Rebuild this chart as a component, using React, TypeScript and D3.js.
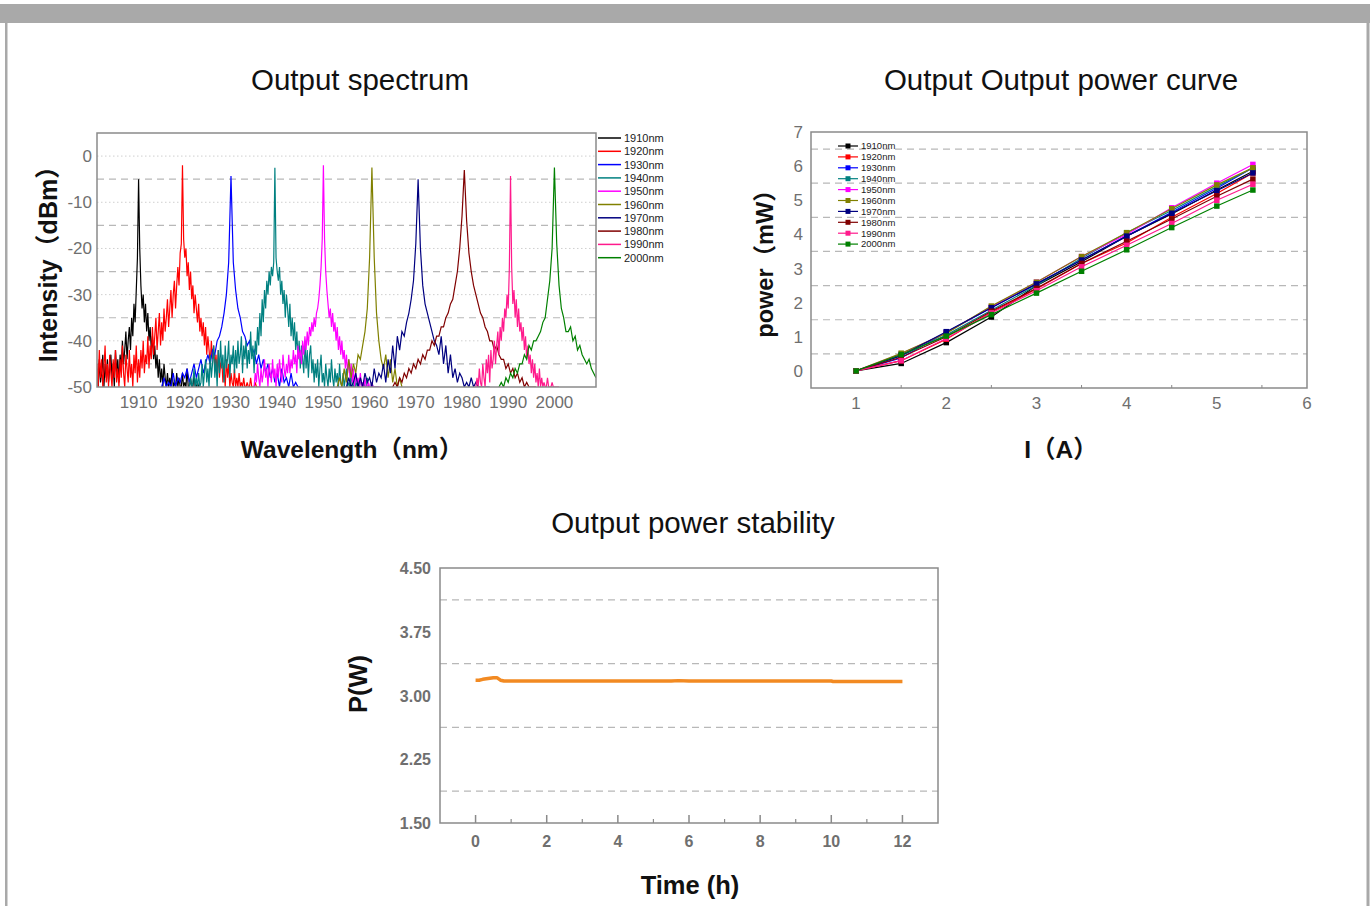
import React from "react";
import * as d3 from "d3";

// ---------------- Output spectrum data ----------------
const SPEC_NAMES = ["1910nm", "1920nm", "1930nm", "1940nm", "1950nm", "1960nm", "1970nm", "1980nm", "1990nm", "2000nm"];
const SPEC_COLORS = ["#000000", "#ff0000", "#0000ff", "#008080", "#ff00ff", "#808000", "#000080", "#800000", "#ff1a8c", "#008000"];
const SPEC_STEPS = [0.25, 0.25, 0.5, 0.25, 0.25, 0.5, 0.5, 0.5, 0.25, 0.5]; // nm between samples
const SPEC_STARTS = [1901, 1901, 1915, 1921, 1935, 1953, 1955, 1965, 1983, 1988];

const SPEC_1910 = [
  -46, -50, -44, -49, -47, -43, -50, -45, -48, -44,
  -49, -46, -43, -48, -45, -50, -42, -47, -44, -49,
  -43, -46, -40, -45, -42, -38, -44, -40, -37, -42,
  -35, -39, -32, -36, -29, -22, -5, -20, -28, -33,
  -30, -36, -32, -38, -34, -40, -37, -42, -39, -44,
  -41, -46, -43, -48, -44, -49, -46, -50, -45, -48,
  -50, -47, -50, -48, -50, -46, -50, -49, -50, -47,
  -50, -48, -50, -50, -47, -50, -49, -50, -46, -50,
  -50, -48, -50, -50, -47, -50, -50, -49, -50, -50,
  -50, -50, -50,
];
const SPEC_1920 = [
  -45, -50, -42, -48, -44, -50, -46, -41, -49, -45,
  -50, -43, -47, -50, -44, -48, -42, -49, -46, -50,
  -44, -48, -41, -47, -50, -43, -46, -49, -42, -48,
  -45, -50, -43, -47, -41, -49, -44, -48, -42, -46,
  -40, -47, -43, -45, -39, -46, -41, -44, -37, -43,
  -39, -35, -42, -38, -34, -41, -36, -40, -33, -38,
  -35, -31, -37, -33, -29, -35, -30, -27, -33, -28,
  -24, -28, -21, -19, -2, -18, -22, -20, -26, -23,
  -29, -25, -31, -28, -34, -30, -33, -36, -32, -38,
  -35, -39, -36, -41, -37, -43, -39, -42, -45, -40,
  -44, -41, -46, -43, -47, -42, -48, -45, -44, -49,
  -46, -50, -44, -48, -45, -50, -47, -49, -50, -46,
  -50, -48, -50, -47, -50, -49, -50, -48, -50, -50,
  -49, -50, -50, -48, -50, -50, -50, -49, -50, -50,
  -50,
];
const SPEC_1930 = [
  -50, -48, -50, -49, -50, -47, -50, -48, -49, -47,
  -48, -46, -49, -47, -45, -48, -46, -44, -47, -45,
  -43, -45, -42, -43, -40, -39, -37, -34, -30, -23,
  -4.3, -23, -29, -33, -35, -38, -39, -41, -40, -43,
  -42, -45, -43, -46, -44, -47, -45, -48, -46, -49,
  -47, -50, -46, -49, -48, -50, -47, -50, -49, -50,
  -50,
];
const SPEC_1940 = [
  -50, -48, -50, -49, -46, -50, -48, -50, -47, -50,
  -49, -45, -50, -47, -44, -49, -46, -50, -43, -48,
  -45, -41, -48, -44, -50, -42, -47, -40, -46, -43,
  -49, -41, -46, -44, -40, -48, -43, -45, -41, -47,
  -42, -46, -40, -45, -43, -39, -47, -41, -44, -40,
  -46, -42, -45, -38, -44, -41, -47, -40, -43, -37,
  -41, -34, -39, -31, -36, -29, -33, -27, -30, -25,
  -28, -24, -26, -23, -2.5, -22, -25, -27, -24, -30,
  -27, -32, -29, -35, -30, -33, -37, -32, -39, -35,
  -40, -36, -42, -38, -44, -40, -46, -41, -44, -47,
  -40, -46, -42, -48, -43, -41, -47, -44, -49, -45,
  -48, -44, -50, -46, -43, -49, -47, -50, -45, -48,
  -50, -46, -49, -44, -48, -50, -46, -49, -47, -50,
  -45, -49, -50, -47, -50, -48, -46, -50, -49, -50,
  -47, -50, -50, -48, -50, -49, -50, -50, -48, -50,
  -50, -49, -50, -50, -48, -50, -50, -50, -49, -50,
  -50, -50, -50, -50, -50,
];
const SPEC_1950 = [
  -50, -47, -49, -45, -48, -50, -46, -49, -47, -44,
  -48, -46, -50, -45, -47, -49, -44, -48, -46, -50,
  -45, -48, -44, -47, -49, -43, -46, -48, -45, -47,
  -43, -47, -44, -46, -42, -45, -43, -47, -41, -44,
  -42, -45, -40, -43, -39, -42, -38, -41, -37, -39,
  -36, -38, -35, -37, -34, -33, -31, -28, -24, -18,
  -2, -18, -25, -29, -32, -35, -33, -37, -34, -38,
  -36, -40, -37, -42, -39, -43, -40, -44, -42, -46,
  -43, -47, -44, -48, -45, -49, -46, -50, -47, -49,
  -48, -50, -47, -50, -49, -50, -48, -50, -50, -49,
  -50, -50, -49, -50, -50, -50, -50, -50, -50, -50,
  -50,
];
const SPEC_1960 = [
  -50, -48, -50, -46, -49, -44, -48, -45, -47, -43,
  -44, -41, -38, -33, -22, -2.5, -22, -34, -40, -44,
  -46, -43, -48, -44, -49, -46, -50, -48, -50,
];
const SPEC_1970 = [
  -50, -48, -50, -49, -47, -50, -48, -50, -47, -49,
  -48, -50, -46, -49, -47, -48, -45, -49, -44, -47,
  -41, -46, -39, -42, -38, -39, -36, -34, -31, -27,
  -19, -5, -20, -28, -32, -34, -36, -38, -40, -41,
  -43, -39, -45, -41, -47, -43, -48, -46, -49, -47,
  -48, -50, -49, -50, -48, -50, -49, -50, -50, -50,
  -50, -50, -50,
];
const SPEC_1980 = [
  -50, -49, -50, -48, -49, -47, -48, -46, -47, -45,
  -46, -44, -45, -43, -44, -42, -42, -40, -41, -39,
  -39, -37, -37, -35, -34, -32, -31, -28, -25, -20,
  -13, -3, -14, -21, -25, -28, -30, -32, -34, -35,
  -37, -38, -40, -40, -42, -41, -43, -44, -44, -46,
  -45, -47, -46, -48, -47, -49, -48, -50, -49, -50,
  -50, -50, -50,
];
const SPEC_1990 = [
  -50, -48, -50, -46, -49, -50, -45, -48, -50, -44,
  -47, -43, -49, -42, -46, -44, -40, -45, -41, -38,
  -43, -37, -40, -35, -38, -33, -35, -30, -33, -24,
  -4.3, -24, -32, -29, -35, -31, -37, -33, -38, -36,
  -40, -37, -42, -39, -44, -41, -45, -43, -47, -44,
  -48, -45, -49, -47, -50, -46, -50, -48, -50, -49,
  -50, -50, -48, -50, -50, -50, -49, -50, -50, -50,
  -50, -50, -50,
];
const SPEC_2000 = [
  -50, -49, -50, -48, -49, -47, -48, -46, -47, -45,
  -45, -43, -44, -41, -42, -40, -40, -39, -38, -36,
  -35, -31, -27, -20, -2.5, -19, -28, -33, -35, -38,
  -38, -37, -40, -39, -42, -41, -43, -44, -45, -44,
  -46, -47, -48,
];
const SPEC_VALUES = [SPEC_1910, SPEC_1920, SPEC_1930, SPEC_1940, SPEC_1950, SPEC_1960, SPEC_1970, SPEC_1980, SPEC_1990, SPEC_2000];
const SPEC_X_TICKS = [1910, 1920, 1930, 1940, 1950, 1960, 1970, 1980, 1990, 2000];
const SPEC_Y_TICKS = [0, -10, -20, -30, -40, -50];
const SPEC_DASH_GRID = [-5, -15, -25, -35, -45];

// ---------------- Output power curve data ----------------
const CURRENT_A = [1, 1.5, 2, 2.5, 3, 3.5, 4, 4.5, 5, 5.4];
const PWR_1910 = [0, 0.22, 0.83, 1.58, 2.5, 3.2, 3.95, 4.6, 5.3, 5.85];
const PWR_1920 = [0, 0.3, 0.93, 1.72, 2.4, 3.15, 3.75, 4.5, 5.2, 5.8];
const PWR_1930 = [0, 0.38, 1.13, 1.85, 2.55, 3.25, 3.95, 4.65, 5.35, 5.95];
const PWR_1940 = [0, 0.45, 1.05, 1.78, 2.5, 3.3, 4.05, 4.7, 5.4, 5.95];
const PWR_1950 = [0, 0.5, 1.12, 1.88, 2.6, 3.35, 4.0, 4.78, 5.5, 6.05];
const PWR_1960 = [0, 0.52, 1.1, 1.9, 2.6, 3.35, 4.05, 4.75, 5.45, 5.95];
const PWR_1970 = [0, 0.45, 1.15, 1.85, 2.55, 3.25, 3.95, 4.62, 5.28, 5.8];
const PWR_1980 = [0, 0.4, 1.0, 1.75, 2.42, 3.15, 3.8, 4.45, 5.12, 5.62];
const PWR_1990 = [0, 0.3, 0.95, 1.7, 2.35, 3.05, 3.68, 4.32, 5.0, 5.47];
const PWR_2000 = [0, 0.48, 1.02, 1.65, 2.28, 2.92, 3.55, 4.2, 4.83, 5.3];
const PWR_VALUES = [PWR_1910, PWR_1920, PWR_1930, PWR_1940, PWR_1950, PWR_1960, PWR_1970, PWR_1980, PWR_1990, PWR_2000];
const PWR_X_TICKS = [1, 2, 3, 4, 5, 6];
const PWR_Y_TICKS = [0, 1, 2, 3, 4, 5, 6, 7];
const PWR_DASH_GRID = [0.5, 1.5, 2.5, 3.5, 4.5, 5.5, 6.5];
const PWR_MINOR_X = [1.5, 2.5, 3.5, 4.5, 5.5];

// ---------------- Output power stability data ----------------
const TIME_H = [0, 0.1, 0.2, 0.35, 0.5, 0.6, 0.7, 0.8, 2, 4, 5.5, 5.7, 6, 8, 10, 10.05, 12];
const STAB_W = [3.18, 3.18, 3.19, 3.2, 3.21, 3.21, 3.18, 3.17, 3.17, 3.17, 3.17, 3.175, 3.17, 3.17, 3.17, 3.165, 3.165];
const STAB_X_TICKS = [0, 2, 4, 6, 8, 10, 12];
const STAB_X_MINOR = [1, 3, 5, 7, 9, 11];
const STAB_Y_TICKS = [1.5, 2.25, 3.0, 3.75, 4.5];
const STAB_DASH_GRID = [1.875, 2.625, 3.375, 4.125];

const FONT = "'Liberation Sans', Arial, Helvetica, 'Noto Sans CJK SC', sans-serif";
const TICK_COLOR = "#6f6f6f";
const AXIS_COLOR = "#8a8a8a";
const GRID_COLOR = "#b8b8b8";

function SpectrumChart() {
  const x = d3.scaleLinear().domain([1901, 2009]).range([97, 596]);
  const y = d3.scaleLinear().domain([-50, 5]).range([387, 133]);
  const [x0, x1] = x.range();
  const [yb, yt] = y.range();
  return (
    <g>
      <text x={360} y={90} textAnchor="middle" fontSize={29.5} fontFamily={FONT} fill="#111">Output spectrum</text>
      <defs>
        <clipPath id="specClip">
          <rect x={x0} y={yt} width={x1 - x0} height={yb - yt} />
        </clipPath>
      </defs>
      {SPEC_Y_TICKS.filter((t) => t > -50).map((t) => (
        <line key={"d" + t} x1={x0} x2={x1} y1={y(t)} y2={y(t)} stroke="#cfcfcf" strokeWidth={1} strokeDasharray="1.5,2.5" />
      ))}
      {SPEC_DASH_GRID.map((t) => (
        <line key={"g" + t} x1={x0} x2={x1} y1={y(t)} y2={y(t)} stroke={GRID_COLOR} strokeWidth={1.2} strokeDasharray="7,5" />
      ))}
      <g clipPath="url(#specClip)">
        {SPEC_VALUES.map((vals, si) => {
          const line = d3
            .line<number>()
            .x((_, i) => x(SPEC_STARTS[si] + i * SPEC_STEPS[si]))
            .y((d) => y(d));
          return <path key={si} d={line(vals) || ""} fill="none" stroke={SPEC_COLORS[si]} strokeWidth={1.2} />;
        })}
      </g>
      <rect x={x0} y={yt} width={x1 - x0} height={yb - yt} fill="none" stroke={AXIS_COLOR} strokeWidth={1.5} />
      {SPEC_Y_TICKS.map((t) => (
        <text key={"yl" + t} x={92} y={y(t) + 6} textAnchor="end" fontSize={17} fontFamily={FONT} fill={TICK_COLOR}>{t}</text>
      ))}
      {SPEC_X_TICKS.map((t) => (
        <text key={"xl" + t} x={x(t)} y={408} textAnchor="middle" fontSize={17} fontFamily={FONT} fill={TICK_COLOR}>{t}</text>
      ))}
      <text transform="translate(57,258) rotate(-90)" textAnchor="middle" fontSize={25} fontWeight="bold" fontFamily={FONT} fill="#111">Intensity（dBm）</text>
      <text x={352} y={458} textAnchor="middle" fontSize={24.5} fontWeight="bold" fontFamily={FONT} fill="#111">Wavelength（nm）</text>
      {SPEC_NAMES.map((n, i) => {
        const ly = 138 + i * 13.3;
        return (
          <g key={n}>
            <line x1={598} x2={621} y1={ly} y2={ly} stroke={SPEC_COLORS[i]} strokeWidth={1.5} />
            <text x={624} y={ly + 4} fontSize={11} fontFamily={FONT} fill="#222">{n}</text>
          </g>
        );
      })}
    </g>
  );
}

function PowerCurveChart() {
  const x = d3.scaleLinear().domain([0.5, 6]).range([811, 1307]);
  const y = d3.scaleLinear().domain([-0.5, 7]).range([388, 132]);
  const line = d3.line<number>().x((_, i) => x(CURRENT_A[i])).y((d) => y(d));
  const [x0, x1] = x.range();
  const [yb, yt] = y.range();
  const ms = 5.5;
  return (
    <g>
      <text x={1061} y={90} textAnchor="middle" fontSize={29.5} fontFamily={FONT} fill="#111">Output Output power curve</text>
      {PWR_DASH_GRID.map((t) => (
        <line key={"g" + t} x1={x0} x2={x1} y1={y(t)} y2={y(t)} stroke={GRID_COLOR} strokeWidth={1.2} strokeDasharray="7,5" />
      ))}
      {PWR_VALUES.map((vals, si) => (
        <g key={si}>
          <path d={line(vals) || ""} fill="none" stroke={SPEC_COLORS[si]} strokeWidth={1.2} />
          {vals.map((v, i) => (
            <rect key={i} x={x(CURRENT_A[i]) - ms / 2} y={y(v) - ms / 2} width={ms} height={ms} fill={SPEC_COLORS[si]} />
          ))}
        </g>
      ))}
      <rect x={x0} y={yt} width={x1 - x0} height={yb - yt} fill="none" stroke={AXIS_COLOR} strokeWidth={1.5} />
      {PWR_MINOR_X.map((t) => (
        <line key={"m" + t} x1={x(t)} x2={x(t)} y1={yb} y2={yb - 3} stroke={AXIS_COLOR} strokeWidth={1} />
      ))}
      {PWR_Y_TICKS.map((t) => (
        <text key={"yl" + t} x={803} y={y(t) + 6} textAnchor="end" fontSize={17} fontFamily={FONT} fill={TICK_COLOR}>{t}</text>
      ))}
      {PWR_X_TICKS.map((t) => (
        <text key={"xl" + t} x={x(t)} y={409} textAnchor="middle" fontSize={17} fontFamily={FONT} fill={TICK_COLOR}>{t}</text>
      ))}
      <text transform="translate(773,258) rotate(-90)" textAnchor="middle" fontSize={23.5} fontWeight="bold" fontFamily={FONT} fill="#111">power（mW）</text>
      <text x={1061} y={458} textAnchor="middle" fontSize={24.5} fontWeight="bold" fontFamily={FONT} fill="#111">I（A）</text>
      {SPEC_NAMES.map((n, i) => {
        const ly = 146 + i * 10.9;
        return (
          <g key={n}>
            <line x1={838} x2={858} y1={ly} y2={ly} stroke={SPEC_COLORS[i]} strokeWidth={1.2} />
            <rect x={848 - 2.5} y={ly - 2.5} width={5} height={5} fill={SPEC_COLORS[i]} />
            <text x={861} y={ly + 3.3} fontSize={9.5} fontFamily={FONT} fill="#222">{n}</text>
          </g>
        );
      })}
    </g>
  );
}

function StabilityChart() {
  const x = d3.scaleLinear().domain([-1, 13]).range([440, 938]);
  const y = d3.scaleLinear().domain([1.5, 4.5]).range([823, 568]);
  const line = d3.line<number>().x((_, i) => x(TIME_H[i])).y((d) => y(d));
  const [x0, x1] = x.range();
  const [yb, yt] = y.range();
  return (
    <g>
      <text x={693} y={533} textAnchor="middle" fontSize={29.5} fontFamily={FONT} fill="#111">Output power stability</text>
      {STAB_DASH_GRID.map((t) => (
        <line key={"g" + t} x1={x0} x2={x1} y1={y(t)} y2={y(t)} stroke={GRID_COLOR} strokeWidth={1.2} strokeDasharray="7,5" />
      ))}
      <path d={line(STAB_W) || ""} fill="none" stroke="#f28a22" strokeWidth={3.5} strokeLinejoin="round" />
      <rect x={x0} y={yt} width={x1 - x0} height={yb - yt} fill="none" stroke={AXIS_COLOR} strokeWidth={1.5} />
      {STAB_X_TICKS.map((t) => (
        <line key={"t" + t} x1={x(t)} x2={x(t)} y1={yb} y2={yb - 8} stroke={AXIS_COLOR} strokeWidth={1.5} />
      ))}
      {STAB_X_MINOR.map((t) => (
        <line key={"n" + t} x1={x(t)} x2={x(t)} y1={yb} y2={yb - 4} stroke={AXIS_COLOR} strokeWidth={1.2} />
      ))}
      {STAB_Y_TICKS.map((t) => (
        <text key={"yl" + t} x={431} y={y(t) + 6} textAnchor="end" fontSize={16} fontWeight="bold" fontFamily={FONT} fill={TICK_COLOR}>{t.toFixed(2)}</text>
      ))}
      {STAB_X_TICKS.map((t) => (
        <text key={"xl" + t} x={x(t)} y={847} textAnchor="middle" fontSize={16} fontWeight="bold" fontFamily={FONT} fill={TICK_COLOR}>{t}</text>
      ))}
      <text transform="translate(367,684) rotate(-90)" textAnchor="middle" fontSize={25.5} fontWeight="bold" fontFamily={FONT} fill="#111">P(W)</text>
      <text x={690} y={894} textAnchor="middle" fontSize={25.5} fontWeight="bold" fontFamily={FONT} fill="#111">Time (h)</text>
    </g>
  );
}

export default function App() {
  return (
    <div style={{ position: "absolute", left: 0, top: 0, width: 1370, height: 906, background: "#fff" }}>
      <svg width={1370} height={906} viewBox="0 0 1370 906" style={{ display: "block" }}>
        <rect x={0} y={0} width={1370} height={906} fill="#ffffff" />
        <rect x={0} y={4} width={1370} height={19} fill="#a9a9a9" />
        <rect x={5} y={4} width={2.5} height={902} fill="#a9a9a9" />
        <rect x={1366.5} y={4} width={3} height={902} fill="#a9a9a9" />
        <SpectrumChart />
        <PowerCurveChart />
        <StabilityChart />
      </svg>
    </div>
  );
}
